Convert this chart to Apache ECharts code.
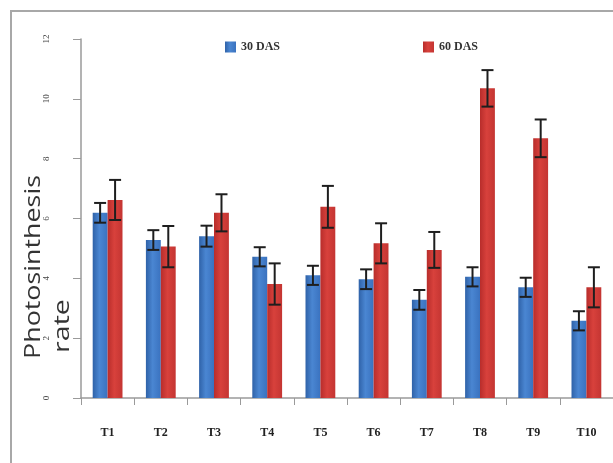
<!DOCTYPE html>
<html>
<head>
<meta charset="utf-8">
<script src="https://cdn.jsdelivr.net/npm/echarts@6/dist/echarts.min.js"></script>
<style>
html,body{margin:0;padding:0;background:#fff;}
#chart{width:613px;height:463px;}
</style>
</head>
<body>
<div id="chart"></div>
<script>
const categories = ['T1','T2','T3','T4','T5','T6','T7','T8','T9','T10'];
const seriesNames = ['30 DAS','60 DAS'];
const das30 = [6.19,5.28,5.41,4.72,4.10,3.97,3.28,4.05,3.70,2.58];
const das60 = [6.62,5.06,6.19,3.81,6.39,5.17,4.95,10.35,8.68,3.70];
const err30 = [0.33,0.33,0.35,0.32,0.32,0.33,0.33,0.32,0.32,0.32];
const err60 = [0.67,0.69,0.62,0.69,0.70,0.67,0.60,0.61,0.63,0.67];
const yTicks = [0,2,4,6,8,10,12];

const chart = echarts.init(document.getElementById('chart'), null, {renderer:'canvas'});

function errData(vals, errs){
  return vals.map((v,i)=>[i, v-errs[i], v+errs[i]]);
}
function errSeries(name, vals, errs, sign){
  return {
    type:'custom',
    name: name + ' err',
    z: 10,
    silent: true,
    data: errData(vals, errs),
    encode:{x:0, y:[1,2]},
    renderItem: function(params, api){
      const band = api.size([1,0])[0];
      const off = band*0.1407*sign;
      const hi = api.coord([api.value(0), api.value(2)]);
      const lo = api.coord([api.value(0), api.value(1)]);
      const x = hi[0]+off;
      const c = 6;
      const st = {stroke:'#1e1e1e', lineWidth:2};
      return {type:'group', children:[
        {type:'line', shape:{x1:x, y1:hi[1], x2:x, y2:lo[1]}, style:st},
        {type:'line', shape:{x1:x-c, y1:hi[1], x2:x+c, y2:hi[1]}, style:st},
        {type:'line', shape:{x1:x-c, y1:lo[1], x2:x+c, y2:lo[1]}, style:st}
      ]};
    }
  };
}

const blueGrad = new echarts.graphic.LinearGradient(0,0,1,0,[
  {offset:0,color:'#2f62a8'},{offset:0.45,color:'#4a86d2'},{offset:1,color:'#3a72bf'}]);
const redGrad = new echarts.graphic.LinearGradient(0,0,1,0,[
  {offset:0,color:'#b82d2b'},{offset:0.45,color:'#d8413c'},{offset:1,color:'#c43532'}]);

const option = {
  backgroundColor:'#ffffff',
  animation:false,
  color:['#3f7bc8','#d03a37'],
  graphic:[
    {type:'rect', z:-10, shape:{x:11,y:11,width:640,height:480}, style:{fill:'none', stroke:'#a8a8a8', lineWidth:2}},
    {type:'text', x:34, y:267, rotation:Math.PI/2, scaleX:1.22, style:{text:'Photosinthesis', font:'22px "Open Sans"', fill:'#333', textAlign:'center', textVerticalAlign:'middle'}},
    {type:'text', x:63, y:326, rotation:Math.PI/2, scaleX:1.3, style:{text:'rate', font:'22px "Open Sans"', fill:'#333', textAlign:'center', textVerticalAlign:'middle'}}
  ],
  legend:{
    data:seriesNames,
    left:220, top:36,
    icon:'rect', itemWidth:11, itemHeight:11, itemGap:143,
    textStyle:{fontFamily:'"Liberation Serif", serif', fontWeight:'bold', fontSize:12, color:'#333'}
  },
  grid:{left:81, right:-1, top:39, bottom:65, containLabel:false},
  xAxis:{
    type:'category',
    data:categories,
    axisLine:{lineStyle:{color:'#9a9a9a', width:1.5}},
    axisTick:{show:true, length:7, alignWithLabel:false, lineStyle:{color:'#9a9a9a'}},
    axisLabel:{margin:29, fontFamily:'"Liberation Serif", serif', fontWeight:'bold', fontSize:12, color:'#222'}
  },
  yAxis:{
    type:'value', min:0, max:12, interval:2,
    axisLine:{show:true, lineStyle:{color:'#9a9a9a', width:1.5}},
    axisTick:{show:true, length:8, lineStyle:{color:'#9a9a9a'}},
    splitLine:{show:false},
    axisLabel:{rotate:90, margin:30, fontFamily:'"Liberation Serif", serif', fontSize:9, color:'#444',
      formatter:function(v){return yTicks.indexOf(v)>=0 ? String(v) : '';}}
  },
  series:[
    {type:'bar', name:seriesNames[0], data:das30, barGap:'0%', barCategoryGap:'44%', itemStyle:{color:blueGrad}},
    {type:'bar', name:seriesNames[1], data:das60, barGap:'0%', barCategoryGap:'44%', itemStyle:{color:redGrad}},
    errSeries(seriesNames[0], das30, err30, -1),
    errSeries(seriesNames[1], das60, err60, 1)
  ]
};
chart.setOption(option);
</script>
</body>
</html>
